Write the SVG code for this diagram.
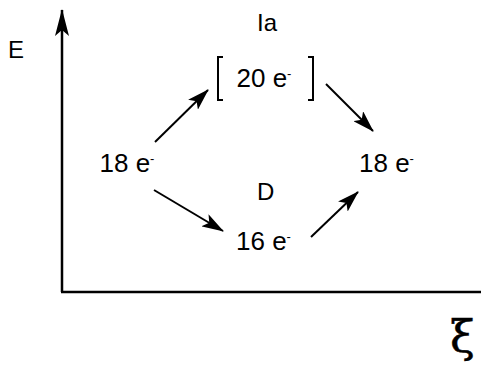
<svg xmlns="http://www.w3.org/2000/svg" width="481" height="365" viewBox="0 0 481 365">
<style>
.t{font-family:"Liberation Sans",Arial,sans-serif;font-size:26px;fill:#000}
.l{font-family:"Liberation Sans",Arial,sans-serif;font-size:24px;fill:#000}
.ax{stroke:#000;stroke-width:2.5;fill:none}
.ar{stroke:#000;stroke-width:2;fill:none}
</style>
<defs>
<marker id="head" viewBox="0 0 22 14" markerWidth="22" markerHeight="14" refX="21" refY="7" orient="auto" markerUnits="userSpaceOnUse">
<path d="M0,0 L22,7 L0,14 L5,7 z" fill="#000"/>
</marker>
<marker id="axhead" viewBox="0 0 27 14" markerWidth="27" markerHeight="14" refX="26" refY="7" orient="auto" markerUnits="userSpaceOnUse">
<path d="M0,0 L27,7 L0,14 L6,7 z" fill="#000"/>
</marker>
</defs>
<rect width="481" height="365" fill="#fff"/>
<g id="axes">
<line class="ax" x1="62" y1="292" x2="62" y2="10" marker-end="url(#axhead)"/>
<line class="ax" x1="61" y1="292" x2="481" y2="292"/>
</g>
<g id="label-E"><text class="l" x="8" y="58">E</text></g>
<g id="label-xi"><text x="450" y="352" style="font-family:'DejaVu Serif','Liberation Serif',serif;font-size:45px;stroke:#000;stroke-width:0.5">ξ</text></g>
<g id="node-18-left"><text class="t" x="99.5" y="172">18 e<tspan font-size="13" dy="-9">-</tspan></text></g>
<g id="node-20"><text class="l" x="257" y="31">Ia</text>
<text class="t" x="236.5" y="87">20 e<tspan font-size="13" dy="-9">-</tspan></text>
<path d="M223,57 H218 V100 H223 M308,57 H313 V100 H308" fill="none" stroke="#000" stroke-width="2"/></g>
<g id="node-16"><text class="l" x="257" y="200">D</text>
<text class="t" x="236" y="250">16 e<tspan font-size="13" dy="-9">-</tspan></text></g>
<g id="node-18-right"><text class="t" x="359" y="172">18 e<tspan font-size="13" dy="-9">-</tspan></text></g>
<g id="connectors">
<line class="ar" x1="155" y1="142" x2="208" y2="90" marker-end="url(#head)"/>
<line class="ar" x1="326" y1="84" x2="373" y2="131" marker-end="url(#head)"/>
<line class="ar" x1="154" y1="190" x2="223" y2="231" marker-end="url(#head)"/>
<line class="ar" x1="311" y1="237" x2="358" y2="192" marker-end="url(#head)"/>
</g>
</svg>
